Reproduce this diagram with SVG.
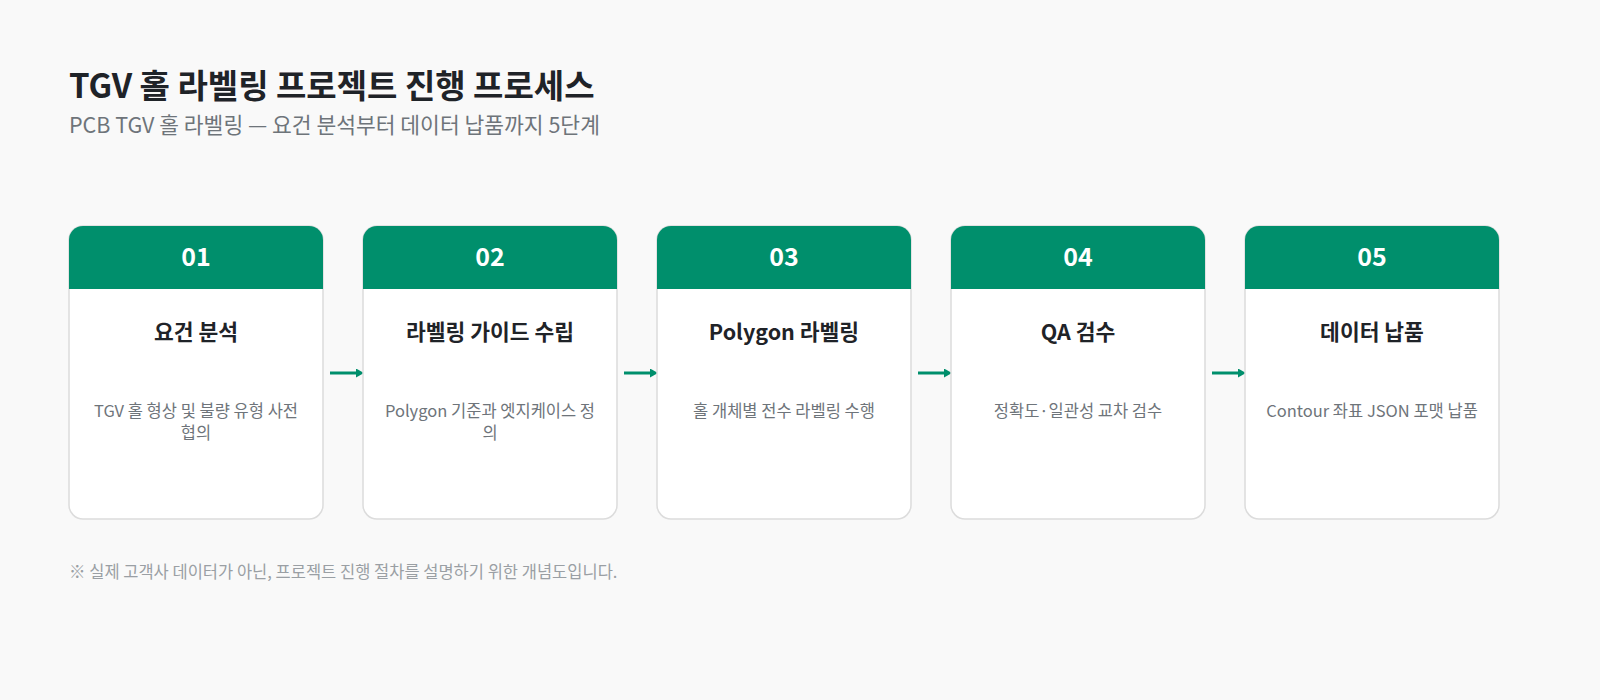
<svg xmlns="http://www.w3.org/2000/svg" width="1600" height="700" viewBox="0 0 1600 700">
<defs>
<style>
text{font-family:"Noto Sans CJK KR","Noto Sans",sans-serif}
.title{font-size:33px;font-weight:700;fill:#1f2328}
.sub{font-size:21.5px;fill:#6e747a}
.card{fill:#ffffff;stroke:#dcdcdc;stroke-width:1.5}
.hdr{fill:#008f6c}
.num{font-size:25px;font-weight:700;fill:#ffffff;text-anchor:middle}
.ct{font-size:21.5px;font-weight:700;fill:#1f2328;text-anchor:middle}
.cd{font-size:16.5px;fill:#6e747a;text-anchor:middle}
.note{font-size:16.5px;fill:#9a9fa4}
.conn{stroke:#008f6c;stroke-width:3;fill:none}
</style>
<marker id="ah" viewBox="0 0 8 9" refX="0" refY="4.5" markerWidth="8" markerHeight="9" orient="auto" markerUnits="userSpaceOnUse">
<path d="M0,0 L8,4.5 L0,9 z" fill="#008f6c"/>
</marker>
</defs>
<rect width="1600" height="700" fill="#f9f9f9"/>
<text class="title" x="69" y="98">TGV 홀 라벨링 프로젝트 진행 프로세스</text>
<text class="sub" x="69" y="133">PCB TGV 홀 라벨링 — 요건 분석부터 데이터 납품까지 5단계</text>
<g id="connectors">
<line class="conn" x1="330" y1="373" x2="356" y2="373" marker-end="url(#ah)"/>
<line class="conn" x1="624" y1="373" x2="650" y2="373" marker-end="url(#ah)"/>
<line class="conn" x1="918" y1="373" x2="944" y2="373" marker-end="url(#ah)"/>
<line class="conn" x1="1212" y1="373" x2="1238" y2="373" marker-end="url(#ah)"/>
</g>
<g id="node1">
<rect class="card" x="69" y="226" width="254" height="293" rx="14"/>
<path class="hdr" d="M69,289 V240 A14,14 0 0 1 83,226 H309 A14,14 0 0 1 323,240 V289 Z"/>
<text class="num" x="196" y="266">01</text>
<text class="ct" x="196" y="340">요건 분석</text>
<text class="cd" x="196" y="417">TGV 홀 형상 및 불량 유형 사전</text>
<text class="cd" x="196" y="439">협의</text>
</g>
<g id="node2">
<rect class="card" x="363" y="226" width="254" height="293" rx="14"/>
<path class="hdr" d="M363,289 V240 A14,14 0 0 1 377,226 H603 A14,14 0 0 1 617,240 V289 Z"/>
<text class="num" x="490" y="266">02</text>
<text class="ct" x="490" y="340">라벨링 가이드 수립</text>
<text class="cd" x="490" y="417">Polygon 기준과 엣지케이스 정</text>
<text class="cd" x="490" y="439">의</text>
</g>
<g id="node3">
<rect class="card" x="657" y="226" width="254" height="293" rx="14"/>
<path class="hdr" d="M657,289 V240 A14,14 0 0 1 671,226 H897 A14,14 0 0 1 911,240 V289 Z"/>
<text class="num" x="784" y="266">03</text>
<text class="ct" x="784" y="340">Polygon 라벨링</text>
<text class="cd" x="784" y="417">홀 개체별 전수 라벨링 수행</text>
</g>
<g id="node4">
<rect class="card" x="951" y="226" width="254" height="293" rx="14"/>
<path class="hdr" d="M951,289 V240 A14,14 0 0 1 965,226 H1191 A14,14 0 0 1 1205,240 V289 Z"/>
<text class="num" x="1078" y="266">04</text>
<text class="ct" x="1078" y="340">QA 검수</text>
<text class="cd" x="1078" y="417">정확도·일관성 교차 검수</text>
</g>
<g id="node5">
<rect class="card" x="1245" y="226" width="254" height="293" rx="14"/>
<path class="hdr" d="M1245,289 V240 A14,14 0 0 1 1259,226 H1485 A14,14 0 0 1 1499,240 V289 Z"/>
<text class="num" x="1372" y="266">05</text>
<text class="ct" x="1372" y="340">데이터 납품</text>
<text class="cd" x="1372" y="417">Contour 좌표 JSON 포맷 납품</text>
</g>
<text class="note" x="69" y="578">※ 실제 고객사 데이터가 아닌, 프로젝트 진행 절차를 설명하기 위한 개념도입니다.</text>
</svg>
